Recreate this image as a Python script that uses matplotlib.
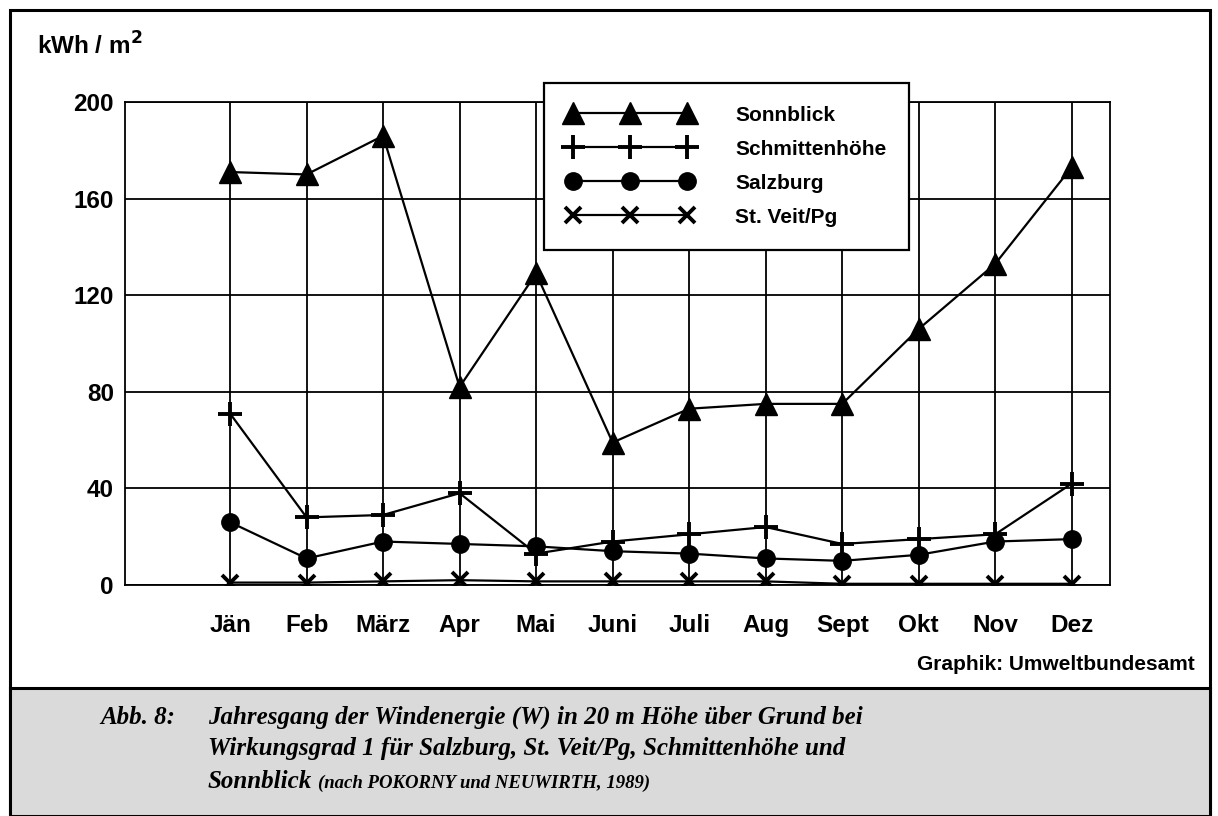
import matplotlib
matplotlib.use("Agg")
import matplotlib.pyplot as plt
from matplotlib.patches import Rectangle

# month labels and series values (kWh / m2)
months = ["Jän", "Feb", "März", "Apr", "Mai", "Juni", "Juli", "Aug", "Sept", "Okt", "Nov", "Dez"]
sonnblick = [171, 170, 186, 82, 129, 59, 73, 75, 75, 106, 133, 173]
schmittenhoehe = [71, 28, 29, 38, 13, 18, 21, 24, 17, 19, 21, 42]
salzburg = [26, 11, 18, 17, 16, 14, 13, 11, 10, 12.5, 18, 19]
st_veit = [1, 1, 1.5, 2, 1.5, 1.5, 1.5, 1.5, 0.5, 0.5, 0.5, 0.5]
y_ticks = [0, 40, 80, 120, 160, 200]

plt.rcParams['font.family'] = ['Liberation Sans', 'DejaVu Sans']

fig = plt.figure(figsize=(12.18, 8.16), dpi=100)
ax = fig.add_axes([125 / 1218, 1 - 585 / 816, (1110 - 125) / 1218, (585 - 102) / 816])

x = list(range(len(months)))

# grid lines under the data
for xi in x:
    ax.axvline(xi, color="black", lw=1.3, zorder=1)
for yt in y_ticks:
    ax.axhline(yt, color="black", lw=1.3, zorder=1)

ax.plot(x, sonnblick, color="black", lw=1.6, marker="^", ms=16, label="Sonnblick", zorder=3)
ax.plot(x, schmittenhoehe, color="black", lw=1.6, marker="+", ms=17, mew=2.8, label="Schmittenhöhe", zorder=3)
ax.plot(x, salzburg, color="black", lw=1.6, marker="o", ms=12.5, label="Salzburg", zorder=3)
ax.plot(x, st_veit, color="black", lw=1.6, marker="x", ms=11, mew=2.8, label="St. Veit/Pg", zorder=3)

ax.set_xlim(-1.373, 11.5)
ax.set_ylim(0, 200)
ax.set_yticks(y_ticks)
ax.set_xticks(x)
ax.set_xticklabels(months)
ax.tick_params(axis="both", length=0, labelsize=17.5, pad=8)
ax.tick_params(axis="x", pad=21)
for lbl in ax.get_xticklabels() + ax.get_yticklabels():
    lbl.set_fontweight("bold")
for sp in ax.spines.values():
    sp.set_linewidth(1.3)

leg = ax.legend(loc="upper left", bbox_to_anchor=(0.425, 1.04), numpoints=3, handlelength=6.1,
                fontsize=15, labelspacing=0.72, borderpad=1.1, handletextpad=2.0,
                fancybox=False, framealpha=1, edgecolor="black", borderaxespad=0)
leg.get_frame().set_linewidth(1.6)
leg.set_zorder(5)
for t in leg.get_texts():
    t.set_fontweight("bold")

# texts around the plot
fig.text(37 / 1218, 1 - 46 / 816, "kWh / m$^\\mathbf{2}$", fontsize=17.5, fontweight="bold", va="center")
fig.text(1195 / 1218, 1 - 664 / 816, "Graphik: Umweltbundesamt", fontsize=15, fontweight="bold",
         ha="right", va="center")

# outer frame and caption area
fig.patches.append(Rectangle((10 / 1218, 0), 1200 / 1218, 806 / 816, transform=fig.transFigure,
                             fill=False, edgecolor="black", lw=2.2))
fig.patches.append(Rectangle((10 / 1218, 0), 1200 / 1218, (816 - 688) / 816, transform=fig.transFigure,
                             facecolor="#dadada", edgecolor="black", lw=2.2))

cap_font = dict(family=["Liberation Serif", "DejaVu Serif"], style="italic", fontweight="bold", fontsize=18)
fig.text(100 / 1218, 1 - 717 / 816, "Abb. 8:", va="center", **cap_font)
fig.text(208 / 1218, 1 - 717 / 816, "Jahresgang der Windenergie (W) in 20 m Höhe über Grund bei",
         va="center", **cap_font)
fig.text(208 / 1218, 1 - 749 / 816, "Wirkungsgrad 1 für Salzburg, St. Veit/Pg, Schmittenhöhe und",
         va="center", **cap_font)
fig.text(208 / 1218, 1 - 781 / 816, "Sonnblick", va="center", **cap_font)
fig.text(318 / 1218, 1 - 783 / 816, "(nach POKORNY und NEUWIRTH, 1989)", va="center",
         family=["Liberation Serif", "DejaVu Serif"], style="italic", fontweight="bold", fontsize=13.5)

fig.savefig("out.png", dpi=100)
